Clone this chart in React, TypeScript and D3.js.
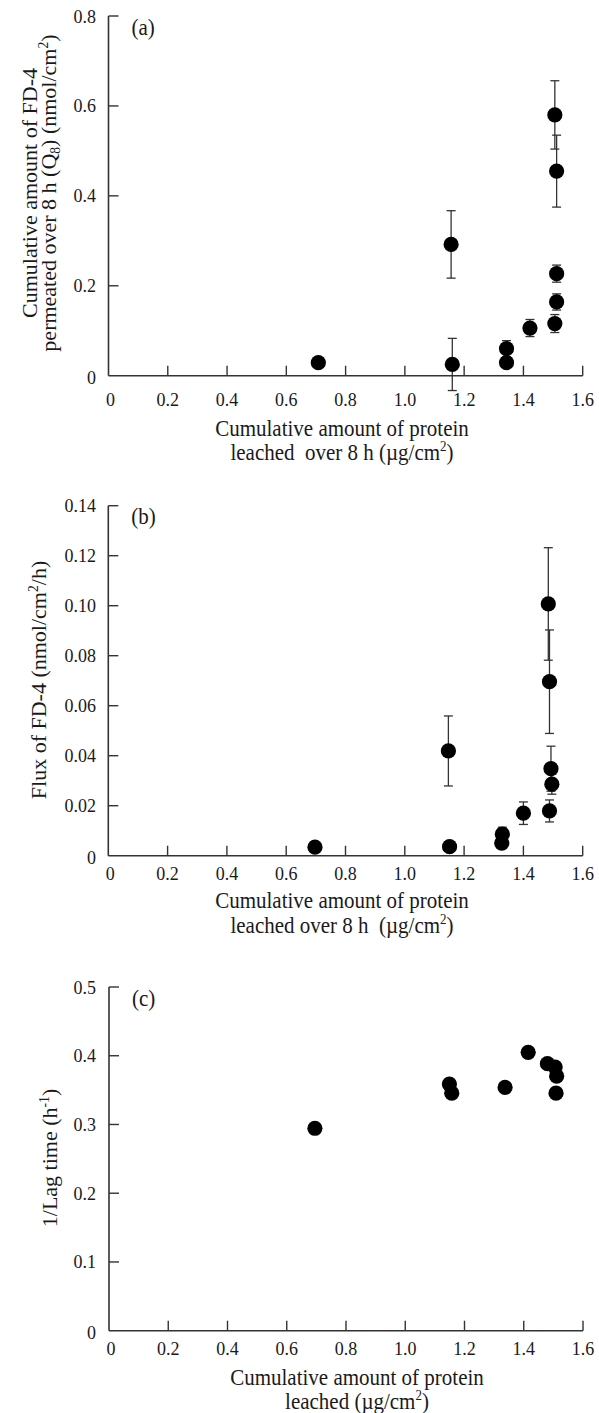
import React from 'react';
import * as d3 from 'd3';

// ---------- data ----------
const xTickValues = [0, 0.2, 0.4, 0.6, 0.8, 1.0, 1.2, 1.4, 1.6];
const xTickLabels = ['0', '0.2', '0.4', '0.6', '0.8', '1.0', '1.2', '1.4', '1.6'];

// (a) cumulative FD-4 permeated over 8 h
const aYTicks = [0, 0.2, 0.4, 0.6, 0.8];
const aYTickLabels = ['0', '0.2', '0.4', '0.6', '0.8'];
const aX = [0.708, 1.156, 1.160, 1.343, 1.343, 1.422, 1.506, 1.512, 1.512, 1.512, 1.506];
const aY = [0.029, 0.292, 0.025, 0.060, 0.029, 0.106, 0.580, 0.455, 0.227, 0.164, 0.116];
const aErr = [0, 0.075, 0.058, 0.018, 0, 0.019, 0.076, 0.08, 0.019, 0.018, 0.02];

// (b) flux of FD-4
const bYTicks = [0, 0.02, 0.04, 0.06, 0.08, 0.10, 0.12, 0.14];
const bYTickLabels = ['0', '0.02', '0.04', '0.06', '0.08', '0.10', '0.12', '0.14'];
const bX = [0.697, 1.147, 1.151, 1.329, 1.327, 1.400, 1.484, 1.488, 1.493, 1.496, 1.488];
const bY = [0.0034, 0.0419, 0.0036, 0.0086, 0.0050, 0.0170, 0.1007, 0.0696, 0.0348, 0.0286, 0.0179];
const bErr = [0, 0.014, 0, 0.0028, 0, 0.0045, 0.0225, 0.0207, 0.009, 0.004, 0.0044];

// (c) 1/lag time
const cYTicks = [0, 0.1, 0.2, 0.3, 0.4, 0.5];
const cYTickLabels = ['0', '0.1', '0.2', '0.3', '0.4', '0.5'];
const cX = [0.695, 1.149, 1.157, 1.337, 1.415, 1.480, 1.506, 1.511, 1.509];
const cY = [0.2945, 0.3588, 0.3455, 0.3539, 0.405, 0.3885, 0.3836, 0.3702, 0.3455];

// ---------- style ----------
const FONT = '"Liberation Serif", "Times New Roman", serif';
const AXIS = '#333';
const TXT = '#1a1a1a';
const K = 1.1; // vertical stretch of text
const TICK_FS = 18;
const LAB_FS = 21;
const ROT_FS = 22;

function HText({ x, cy, size, anchor = 'middle', children }: any) {
  const base = cy + 0.33 * size * K;
  return (
    <text
      transform={`translate(${x},${base}) scale(1,${K})`}
      fontSize={size}
      textAnchor={anchor}
      fill={TXT}
      fontFamily={FONT}
      xmlSpace="preserve"
      style={{ whiteSpace: 'pre' }}
    >
      {children}
    </text>
  );
}

function VText({ x, cy, size, children }: any) {
  return (
    <text
      transform={`translate(${x},${cy}) rotate(-90)`}
      fontSize={size}
      textAnchor="middle"
      fill={TXT}
      fontFamily={FONT}
      xmlSpace="preserve"
      style={{ whiteSpace: 'pre' }}
    >
      {children}
    </text>
  );
}

// superscript / subscript followed by the rest of the text on the baseline
const Sup = ({ t, rest, size }: any) => (
  <>
    <tspan dy={-size * 0.38} fontSize={size * 0.62}>{t}</tspan>
    <tspan dy={size * 0.38} fontSize={size}>{rest}</tspan>
  </>
);
const Sub = ({ t, rest, size }: any) => (
  <>
    <tspan dy={size * 0.2} fontSize={size * 0.62}>{t}</tspan>
    <tspan dy={-size * 0.2} fontSize={size}>{rest}</tspan>
  </>
);

function Panel({ geo, yDomain, yTicks, yTickLabels, xs, ys, errs, tag, xTickCy }: any) {
  const x = d3.scaleLinear().domain([0, 1.6]).range([geo.left, geo.right]);
  const y = d3.scaleLinear().domain(yDomain).range([geo.bottom, geo.top]);
  const tickLen = 10;
  const cap = 4.5;
  return (
    <g>
      <line x1={x(0)} x2={x(1.6)} y1={y(0)} y2={y(0)} stroke={AXIS} strokeWidth={1.6} />
      <line x1={x(0)} x2={x(0)} y1={y(0)} y2={y(yDomain[1])} stroke={AXIS} strokeWidth={1.6} />
      {xTickValues.map((v, i) => (
        <g key={'xt' + i}>
          {i > 0 && (
            <line x1={x(v)} x2={x(v)} y1={y(0)} y2={y(0) - tickLen} stroke={AXIS} strokeWidth={1.4} />
          )}
          <HText x={x(v) + (i === 0 ? 2 : 0)} cy={xTickCy} size={TICK_FS}>
            {xTickLabels[i]}
          </HText>
        </g>
      ))}
      {yTicks.map((v: number, i: number) => (
        <g key={'yt' + i}>
          {i > 0 && (
            <line x1={x(0)} x2={x(0) + tickLen} y1={y(v)} y2={y(v)} stroke={AXIS} strokeWidth={1.4} />
          )}
          <HText x={96} cy={y(v) + (i === 0 ? 2 : 0)} size={TICK_FS} anchor="end">
            {yTickLabels[i]}
          </HText>
        </g>
      ))}
      {errs &&
        xs.map((xv: number, i: number) =>
          errs[i] > 0 ? (
            <g key={'e' + i} stroke={AXIS} strokeWidth={1.3}>
              <line x1={x(xv)} x2={x(xv)} y1={y(ys[i] - errs[i])} y2={y(ys[i] + errs[i])} />
              <line x1={x(xv) - cap} x2={x(xv) + cap} y1={y(ys[i] - errs[i])} y2={y(ys[i] - errs[i])} />
              <line x1={x(xv) - cap} x2={x(xv) + cap} y1={y(ys[i] + errs[i])} y2={y(ys[i] + errs[i])} />
            </g>
          ) : null
        )}
      {xs.map((xv: number, i: number) => (
        <circle key={'p' + i} cx={x(xv)} cy={y(ys[i])} r={7.6} fill="#000" />
      ))}
      <HText x={geo.left + 23} cy={geo.top + 11} size={LAB_FS} anchor="start">
        {tag}
      </HText>
    </g>
  );
}

export default function App() {
  const ga = { left: 108.5, right: 582.7, top: 16, bottom: 375.7 };
  const gb = { left: 108.3, right: 582.7, top: 505.7, bottom: 855.7 };
  const gc = { left: 109, right: 583, top: 987, bottom: 1330.7 };
  return (
    <svg
      width={599}
      height={1413}
      style={{ position: 'absolute', left: 0, top: 0, background: '#fff' }}
    >
      <rect width={599} height={1413} fill="#fff" />
      {/* (a) */}
      <Panel geo={ga} yDomain={[0, 0.8]} yTicks={aYTicks} yTickLabels={aYTickLabels}
        xs={aX} ys={aY} errs={aErr} tag="(a)" xTickCy={399} />
      <VText x={37} cy={193} size={ROT_FS}>Cumulative amount of FD-4</VText>
      <VText x={56} cy={193} size={ROT_FS}>
        <tspan>permeated over 8 h (Q</tspan>
        <Sub t="8" rest=") (nmol/cm" size={ROT_FS} />
        <Sup t="2" rest=")" size={ROT_FS} />
      </VText>
      <HText x={342} cy={428} size={LAB_FS}>Cumulative amount of protein</HText>
      <HText x={342} cy={452} size={LAB_FS}>
        <tspan>{'leached  over 8 h (\u00B5g/cm'}</tspan>
        <Sup t="2" rest=")" size={LAB_FS} />
      </HText>

      {/* (b) */}
      <Panel geo={gb} yDomain={[0, 0.14]} yTicks={bYTicks} yTickLabels={bYTickLabels}
        xs={bX} ys={bY} errs={bErr} tag="(b)" xTickCy={873} />
      <VText x={46} cy={680} size={ROT_FS}>
        <tspan>Flux of FD-4 (nmol/cm</tspan>
        <Sup t="2" rest="/h)" size={ROT_FS} />
      </VText>
      <HText x={342} cy={900} size={LAB_FS}>Cumulative amount of protein</HText>
      <HText x={342} cy={925} size={LAB_FS}>
        <tspan>{'leached over 8 h  (\u00B5g/cm'}</tspan>
        <Sup t="2" rest=")" size={LAB_FS} />
      </HText>

      {/* (c) */}
      <Panel geo={gc} yDomain={[0, 0.5]} yTicks={cYTicks} yTickLabels={cYTickLabels}
        xs={cX} ys={cY} errs={null} tag="(c)" xTickCy={1348} />
      <VText x={57} cy={1158} size={ROT_FS}>
        <tspan>1/Lag time (h</tspan>
        <Sup t="-1" rest=")" size={ROT_FS} />
      </VText>
      <HText x={357} cy={1377} size={LAB_FS}>Cumulative amount of protein</HText>
      <HText x={357} cy={1401} size={LAB_FS}>
        <tspan>{'leached (\u00B5g/cm'}</tspan>
        <Sup t="2" rest=")" size={LAB_FS} />
      </HText>
    </svg>
  );
}
